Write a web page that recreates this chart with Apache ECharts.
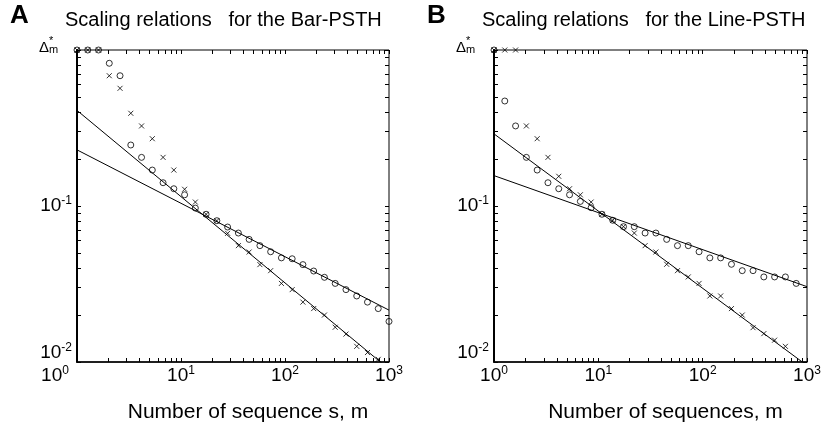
<!DOCTYPE html>
<html>
<head>
<meta charset="utf-8">
<script src="https://cdn.jsdelivr.net/npm/echarts@6/dist/echarts.min.js"></script>
<style>html,body{margin:0;padding:0;background:#fff;}#c{width:827px;height:434px;}</style>
</head>
<body>
<div id="c"></div>
<script>
// ---- data ----
const mValues = [1, 1.269, 1.610, 2.043, 2.593, 3.290, 4.175, 5.298, 6.723, 8.532,
  10.83, 13.74, 17.43, 22.12, 28.07, 35.62, 45.20, 57.36, 72.79, 92.37,
  117.2, 148.7, 188.7, 239.5, 303.9, 385.7, 489.4, 621.0, 788.1, 1000];

const barCircles = [1, 1, 1, 0.822, 0.684, 0.246, 0.205, 0.170, 0.141, 0.129,
  0.118, 0.097, 0.0885, 0.0805, 0.0733, 0.0671, 0.0611, 0.0557, 0.0509, 0.0465,
  0.0459, 0.0421, 0.0383, 0.0349, 0.0319, 0.0291, 0.0265, 0.0242, 0.0220, 0.0182];
const barCrosses = [1, 1, 1, 0.684, 0.568, 0.393, 0.326, 0.270, 0.205, 0.170,
  0.128, 0.106, 0.0885, 0.0805, 0.0668, 0.0557, 0.0507, 0.0421, 0.0385, 0.0319,
  0.0291, 0.0242, 0.0220, 0.0200, 0.0167, 0.0151, 0.0126, 0.0115, 0.0104, null];
const barFitSteep = [[1, 0.41], [1000, 0.0090]];
const barFitShallow = [[1, 0.229], [1000, 0.0215]];

const lineCircles = [1, 0.471, 0.326, 0.205, 0.170, 0.141, 0.129, 0.118, 0.107, 0.0975,
  0.0885, 0.081, 0.0737, 0.0737, 0.0671, 0.0671, 0.0611, 0.0557, 0.0557, 0.0509,
  0.0465, 0.0465, 0.0423, 0.0385, 0.0385, 0.0351, 0.0351, 0.0351, 0.0319, null];
const lineCrosses = [1, 1, 1, 0.326, 0.270, 0.205, 0.155, 0.129, 0.118, 0.106,
  0.0885, 0.081, 0.0737, 0.0671, 0.0557, 0.0507, 0.0423, 0.0385, 0.0351, 0.0319,
  0.0265, 0.0265, 0.0220, 0.0200, 0.0166, 0.0152, 0.0138, 0.0126, null, null];
const lineFitSteep = [[1, 0.290], [1000, 0.0095]];
const lineFitShallow = [[1, 0.1566], [1000, 0.0304]];

const titles = ['Scaling relations   for the Bar-PSTH', 'Scaling relations   for the Line-PSTH'];
const panelLetters = ['A', 'B'];
const xNames = ['Number of sequence s, m', 'Number of sequences, m'];
const xDecades = [0, 1, 2, 3];
const yDecades = [-2, -1, 0];
const minorMultipliers = [2, 3, 4, 5, 6, 7, 8, 9];

// ---- build ----
const FONT = "'Liberation Sans', Arial, Helvetica, sans-serif";
function pairs(vals) {
  const out = [];
  vals.forEach((v, i) => { if (v != null) out.push([mValues[i], v]); });
  return out;
}
function logTicks(decs) {
  const t = [];
  decs.forEach((d, i) => {
    t.push(d);
    if (i < decs.length - 1) minorMultipliers.forEach(k => t.push(d + Math.log10(k)));
  });
  return t;
}
const xTickVals = logTicks(xDecades);
const yTickVals = logTicks(yDecades);

const rich = {
  b: { fontSize: 19, lineHeight: 22, fontFamily: FONT, color: '#000' },
  s: { fontSize: 12, lineHeight: 12, verticalAlign: 'top', fontFamily: FONT, color: '#000' },
  sp: { fontSize: 12, lineHeight: 12, verticalAlign: 'top', fontFamily: FONT, color: '#000', padding: [0, 44, 0, 0] },
  gap: { fontSize: 2, lineHeight: 18, fontFamily: FONT, color: '#000' }
};

const grids = [
  { left: 77, top: 50, width: 312, height: 312, show: true, borderColor: '#000', borderWidth: 1, backgroundColor: 'transparent' },
  { left: 494, top: 50, width: 313, height: 312, show: true, borderColor: '#000', borderWidth: 1, backgroundColor: 'transparent' }
];

const xAxes = [], yAxes = [];
function overlayX(g, pos) {
  return { type: 'value', gridIndex: g, position: pos, min: 0, max: 3,
    axisLine: { show: false, onZero: false }, axisLabel: { show: false }, splitLine: { show: false },
    axisTick: { show: true, inside: true, length: 4, customValues: xTickVals, lineStyle: { color: '#000', width: 1 } } };
}
function overlayY(g, pos) {
  return { type: 'value', gridIndex: g, position: pos, min: -2, max: 0,
    axisLine: { show: false, onZero: false }, axisLabel: { show: false }, splitLine: { show: false },
    axisTick: { show: true, inside: true, length: 4, customValues: yTickVals, lineStyle: { color: '#000', width: 1 } } };
}
[0, 1].forEach(g => {
  xAxes.push({
    type: 'log', logBase: 10, gridIndex: g, position: 'bottom', min: 1, max: 1000,
    axisLine: { show: true, onZero: false, lineStyle: { color: '#000', width: 1.5 } },
    axisTick: { show: false }, splitLine: { show: false },
    axisLabel: { margin: 3, color: '#000', rich: rich,
      formatter: v => { const e = Math.round(Math.log10(v)); return (g === 0 && e === 0) ? '{b|10}{sp|0}' : '{b|10}{s|' + e + '}'; } },
    name: xNames[g], nameLocation: 'middle', nameGap: 40,
    nameTextStyle: { fontSize: 21, fontFamily: FONT, color: '#000', padding: [0, 0, 0, 30] }
  });
  xAxes.push(overlayX(g, 'bottom'));
  xAxes.push(overlayX(g, 'top'));
  yAxes.push({
    type: 'log', logBase: 10, gridIndex: g, position: 'left', min: 0.01, max: 1,
    axisLine: { show: true, onZero: false, lineStyle: { color: '#000', width: 2 } },
    axisTick: { show: false }, splitLine: { show: false },
    axisLabel: { margin: 5, color: '#000', rich: rich,
      formatter: v => { const e = Math.round(Math.log10(v)); if (e === 0) return ''; if (e === -2) return '{b|10}{s|-2}\n{gap| }'; return '{b|10}{s|' + e + '}'; } }
  });
  yAxes.push(overlayY(g, 'left'));
  yAxes.push(overlayY(g, 'right'));
});

const crossSymbol = 'path://M0,0L10,10M10,0L0,10';
function scatterCircle(data, g) {
  return { type: 'scatter', xAxisIndex: g * 3, yAxisIndex: g * 3, data: data, symbol: 'circle', symbolSize: 6,
    itemStyle: { color: 'transparent', borderColor: '#000', borderWidth: 1 }, z: 5 };
}
function scatterCross(data, g) {
  return { type: 'scatter', xAxisIndex: g * 3, yAxisIndex: g * 3, data: data, symbol: crossSymbol, symbolSize: 5,
    itemStyle: { color: 'none', borderColor: '#000', borderWidth: 1 }, z: 5 };
}
function fitLine(data, g) {
  return { type: 'line', xAxisIndex: g * 3, yAxisIndex: g * 3, data: data, showSymbol: false, symbol: 'none', clip: true,
    lineStyle: { color: '#000', width: 1 }, z: 4 };
}

const series = [
  scatterCircle(pairs(barCircles), 0), scatterCross(pairs(barCrosses), 0),
  fitLine(barFitSteep, 0), fitLine(barFitShallow, 0),
  scatterCircle(pairs(lineCircles), 1), scatterCross(pairs(lineCrosses), 1),
  fitLine(lineFitSteep, 1), fitLine(lineFitShallow, 1)
];

const titleOpts = [];
[0, 1].forEach(g => {
  const gl = grids[g].left;
  titleOpts.push({ text: panelLetters[g], left: gl - 67, top: 3, padding: 0,
    textStyle: { fontSize: 26, fontWeight: 'bold', fontFamily: FONT, color: '#000' } });
  titleOpts.push({ text: titles[g], left: gl - 12, top: 10, padding: 0,
    textStyle: { fontSize: 20, fontWeight: 'normal', fontFamily: FONT, color: '#000' } });
});

const graphics = [];
[0, 1].forEach(g => {
  const gl = grids[g].left;
  graphics.push({ type: 'text', left: gl - 38, top: 40, style: { text: 'Δ', fontSize: 15, fontFamily: FONT, fill: '#000' } });
  graphics.push({ type: 'text', left: gl - 28, top: 35, style: { text: '*', fontSize: 11, fontFamily: FONT, fill: '#000' } });
  graphics.push({ type: 'text', left: gl - 28, top: 44, style: { text: 'm', fontSize: 11, fontFamily: FONT, fill: '#000' } });
});

const chart = echarts.init(document.getElementById('c'), null, { renderer: 'canvas' });
chart.setOption({
  animation: false,
  backgroundColor: '#fff',
  title: titleOpts,
  grid: grids,
  xAxis: xAxes,
  yAxis: yAxes,
  series: series,
  graphic: graphics
});
</script>
</body>
</html>
